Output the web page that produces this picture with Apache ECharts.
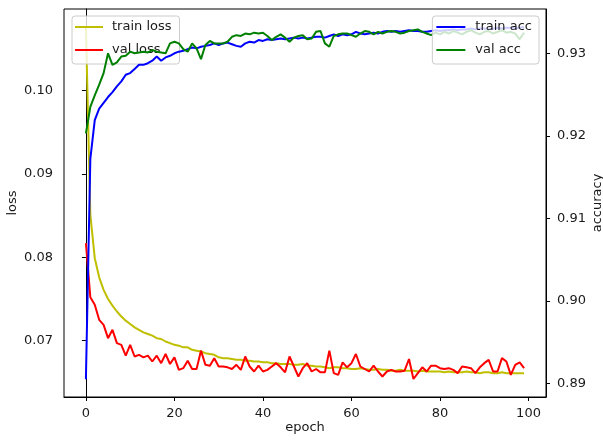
<!DOCTYPE html>
<html>
<head>
<meta charset="utf-8">
<script src="https://cdn.jsdelivr.net/npm/echarts@6/dist/echarts.min.js"></script>
<style>html,body{margin:0;padding:0;background:#fff}#c{width:603px;height:443px}</style>
</head>
<body>
<div id="c"></div>
<script>
const epochs = Array.from({length: 100}, (_, i) => i);
const xTicks = [0, 20, 40, 60, 80, 100];
const lossTicks = [0.07, 0.08, 0.09, 0.10];
const accTicks = [0.89, 0.90, 0.91, 0.92, 0.93];

const trainLoss = [
0.1077,0.0851,0.0799,0.0776,0.0761,0.0750,0.0742,0.0735,0.0729,0.0724,
0.0720,0.0716,0.0713,0.0710,0.0708,0.0706,0.0703,0.0702,0.0699,0.0697,
0.0695,0.0694,0.0692,0.0692,0.0689,0.0688,0.0687,0.0685,0.0684,0.0683,
0.0680,0.0679,0.0679,0.0678,0.0677,0.0677,0.0676,0.0676,0.0675,0.0675,
0.0674,0.0674,0.0673,0.0673,0.0672,0.0672,0.0672,0.0671,0.0671,0.0672,
0.0670,0.0670,0.0669,0.0669,0.0668,0.0667,0.0668,0.0668,0.0667,0.0667,
0.0666,0.0666,0.0667,0.0666,0.0665,0.0665,0.0666,0.0665,0.0665,0.0664,
0.0664,0.0665,0.0664,0.0664,0.0664,0.0663,0.0664,0.0663,0.0663,0.0663,
0.0663,0.0662,0.0663,0.0662,0.0662,0.0662,0.0663,0.0662,0.0662,0.0661,
0.0662,0.0662,0.0661,0.0661,0.0662,0.0661,0.0661,0.0661,0.0661,0.0661];

const valLoss = [
0.0817,0.0752,0.0743,0.0725,0.0719,0.0703,0.0713,0.0697,0.0695,0.0682,
0.0695,0.0681,0.0683,0.0680,0.0682,0.0675,0.0682,0.0673,0.0684,0.0672,
0.0680,0.0665,0.0667,0.0676,0.0666,0.0666,0.0688,0.0671,0.0670,0.0679,
0.0669,0.0669,0.0668,0.0666,0.0671,0.0665,0.0681,0.0669,0.0663,0.0670,
0.0663,0.0665,0.0669,0.0673,0.0668,0.0662,0.0681,0.0669,0.0657,0.0667,
0.0673,0.0663,0.0666,0.0662,0.0662,0.0688,0.0661,0.0659,0.0674,0.0668,
0.0673,0.0684,0.0669,0.0666,0.0663,0.0670,0.0663,0.0657,0.0663,0.0665,
0.0663,0.0663,0.0664,0.0678,0.0654,0.0661,0.0668,0.0663,0.0670,0.0670,
0.0667,0.0666,0.0667,0.0665,0.0661,0.0669,0.0668,0.0667,0.0661,0.0668,
0.0673,0.0677,0.0663,0.0663,0.0679,0.0675,0.0659,0.0671,0.0674,0.0667];

const trainAcc = [
0.8905,0.9172,0.9219,0.9233,0.9240,0.9247,0.9253,0.9260,0.9266,0.9274,
0.9276,0.9281,0.9286,0.9286,0.9288,0.9291,0.9296,0.9291,0.9295,0.9297,
0.9300,0.9302,0.9303,0.9305,0.9307,0.9306,0.9308,0.9309,0.9310,0.9312,
0.9310,0.9312,0.9313,0.9311,0.9309,0.9308,0.9312,0.9314,0.9313,0.9316,
0.9315,0.9317,0.9316,0.9317,0.9318,0.9317,0.9318,0.9319,0.9318,0.9319,
0.9318,0.9319,0.9320,0.9320,0.9319,0.9321,0.9323,0.9321,0.9323,0.9322,
0.9323,0.9326,0.9324,0.9323,0.9324,0.9325,0.9324,0.9326,0.9327,0.9326,
0.9327,0.9326,0.9327,0.9328,0.9327,0.9327,0.9326,0.9326,0.9327,0.9328,
0.9327,0.9328,0.9328,0.9329,0.9328,0.9329,0.9329,0.9330,0.9329,0.9330,
0.9330,0.9329,0.9330,0.9331,0.9330,0.9331,0.9331,0.9330,0.9331,0.9332];

const valAcc = [
0.9203,0.9235,0.9249,0.9262,0.9276,0.9300,0.9286,0.9289,0.9296,0.9297,
0.9302,0.9300,0.9301,0.9302,0.9301,0.9304,0.9302,0.9301,0.9300,0.9312,
0.9314,0.9312,0.9305,0.9302,0.9312,0.9306,0.9293,0.9310,0.9315,0.9312,
0.9312,0.9312,0.9314,0.9320,0.9322,0.9321,0.9324,0.9323,0.9325,0.9324,
0.9325,0.9321,0.9316,0.9320,0.9323,0.9319,0.9314,0.9319,0.9321,0.9322,
0.9317,0.9318,0.9326,0.9327,0.9312,0.9308,0.9321,0.9323,0.9324,0.9324,
0.9322,0.9320,0.9324,0.9327,0.9326,0.9323,0.9326,0.9324,0.9326,0.9327,
0.9326,0.9324,0.9325,0.9327,0.9328,0.9329,0.9326,0.9324,0.9322,0.9325,
0.9323,0.9326,0.9324,0.9327,0.9325,0.9323,0.9326,0.9328,0.9325,0.9323,
0.9326,0.9327,0.9324,0.9326,0.9328,0.9325,0.9326,0.9324,0.9317,0.9325];

const pairs = arr => arr.map((v, i) => [epochs[i], v]);
const font = 'DejaVu Sans';
const txt = {fontFamily: font, fontSize: 13, color: '#1a1a1a'};

const chart = echarts.init(document.getElementById('c'), null, {renderer: 'canvas'});
chart.setOption({
  animation: false,
  backgroundColor: '#fff',
  grid: {left: 64, right: 57, top: 9, bottom: 46, show: true, borderColor: '#000', borderWidth: 1,
         containLabel: false, outerBoundsMode: 'none'},
  xAxis: {
    type: 'value', min: -4.95, max: 103.95,
    name: 'epoch', nameLocation: 'middle', nameGap: 24, nameMoveOverlap: false, nameTextStyle: txt,
    axisLine: {lineStyle: {color: '#000', width: 1}},
    axisTick: {show: true, length: 4, lineStyle: {color: '#000'}, customValues: xTicks},
    axisLabel: Object.assign({margin: 10, customValues: xTicks}, txt),
    splitLine: {show: false}
  },
  yAxis: [{
    type: 'value', position: 'left', min: 0.06324, max: 0.1098,
    name: 'loss', nameLocation: 'middle', nameGap: 45, nameMoveOverlap: false, nameTextStyle: txt,
    axisLine: {show: true, lineStyle: {color: '#000', width: 1}},
    axisTick: {show: true, length: 4, lineStyle: {color: '#000'}, customValues: lossTicks},
    axisLabel: Object.assign({margin: 11, customValues: lossTicks, formatter: v => v.toFixed(2)}, txt),
    splitLine: {show: false}
  }, {
    type: 'value', position: 'right', min: 0.88834, max: 0.93537,
    name: 'accuracy', nameLocation: 'middle', nameGap: 45, nameMoveOverlap: false, nameTextStyle: txt,
    axisLine: {show: true, lineStyle: {color: '#000', width: 1}},
    axisTick: {show: true, length: 4, lineStyle: {color: '#000'}, customValues: accTicks},
    axisLabel: Object.assign({margin: 11, customValues: accTicks, formatter: v => v.toFixed(2)}, txt),
    splitLine: {show: false}
  }],
  legend: [{
    data: ['train loss', 'val loss'], orient: 'vertical', left: 72, top: 16, z: 3,
    icon: 'rect', itemWidth: 28, itemHeight: 2, itemGap: 7,
    padding: [3, 8, 6, 3],
    backgroundColor: 'rgba(255,255,255,0.8)', borderColor: '#cccccc', borderWidth: 1, borderRadius: 3,
    textStyle: Object.assign({lineHeight: 16, padding: [0, 0, 0, 4]}, txt)
  }, {
    data: ['train acc', 'val acc'], orient: 'vertical', right: 64, top: 16, z: 5,
    icon: 'rect', itemWidth: 29, itemHeight: 2, itemGap: 7,
    padding: [3, 7, 6, 4],
    backgroundColor: 'rgba(255,255,255,0.8)', borderColor: '#cccccc', borderWidth: 1, borderRadius: 3,
    textStyle: Object.assign({lineHeight: 16, padding: [0, 0, 0, 5]}, txt)
  }],
  series: [
    {name: 'train loss', type: 'line', yAxisIndex: 0, data: pairs(trainLoss), symbol: 'none', color: '#bfbf00', lineStyle: {width: 2}, z: 2},
    {name: 'val loss', type: 'line', yAxisIndex: 0, data: pairs(valLoss), symbol: 'none', color: '#ff0000', lineStyle: {width: 2}, z: 2},
    {name: 'train acc', type: 'line', yAxisIndex: 1, data: pairs(trainAcc), symbol: 'none', color: '#0000ff', lineStyle: {width: 2}, z: 4},
    {name: 'val acc', type: 'line', yAxisIndex: 1, data: pairs(valAcc), symbol: 'none', color: '#008000', lineStyle: {width: 2}, z: 4}
  ]
});
</script>
</body>
</html>
